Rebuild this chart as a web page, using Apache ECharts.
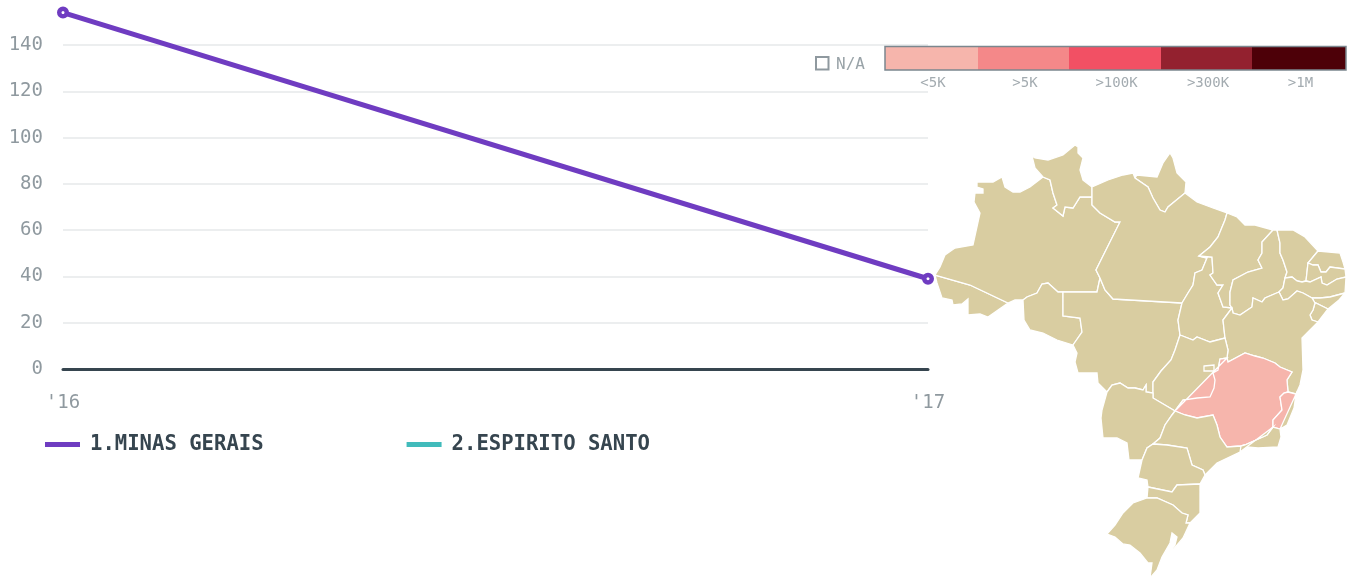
<!DOCTYPE html>
<html><head><meta charset="utf-8">
<style>html,body{margin:0;padding:0;background:#fff}#c{width:1358px;height:582px}</style>
<script src="https://cdn.jsdelivr.net/npm/echarts@6/dist/echarts.min.js"></script>
</head><body><div id="c"></div>
<script>
// ---- chart values ----
const years = ["'16", "'17"];
const minasGerais = [154, 39];
const espiritoSanto = [null, null];
const seriesNames = ['1.MINAS GERAIS', '2.ESPIRITO SANTO'];
const seriesColors = ['#6f3cc1', '#41bbbb'];
const yTicks = [0, 20, 40, 60, 80, 100, 120, 140];
const bandLabels = ['<5K', '>5K', '>100K', '>300K', '>1M'];
const bandColors = ['#f6b5ac', '#f48889', '#f25064', '#93212f', '#4d0008'];
const highlighted = ['Minas Gerais', 'Espirito Santo'];

// ---- state border arcs (map units) ----
const A = {
 acAm:[[935,275],[970,285],[1008,303]],
 acOut:[[935,275],[937,283],[942,298],[952,300],[953,305],[962,304],[968,299],[968,315],[980,314],[988,317],[998,310],[1008,303]],
 amNorth:[[935,275],[940,267],[945,255],[955,248],[973,245],[980,213],[974,202],[975,193],[983,193],[983,189],[977,187],[977,182],[993,182],[1002,177],[1005,187],[1013,192],[1020,192],[1030,187],[1043,177]],
 rrAm:[[1043,177],[1050,180],[1053,193],[1057,205],[1053,208],[1063,216],[1065,207],[1073,208],[1080,197],[1092,197]],
 rrOut:[[1043,177],[1035,168],[1032,156],[1035,158],[1048,160],[1063,155],[1075,145],[1078,147],[1078,153],[1083,158],[1080,170],[1083,180],[1092,187]],
 rrPa:[[1092,187],[1092,197]],
 amPa:[[1092,197],[1092,205],[1100,213],[1115,222],[1120,222],[1096,270],[1100,278]],
 amMt:[[1100,278],[1097,292],[1063,292]],
 amRo:[[1063,292],[1058,292],[1048,283],[1042,284],[1037,293],[1027,297],[1023,300]],
 amBo:[[1023,300],[1015,300],[1008,303]],
 roOut:[[1023,300],[1024,320],[1030,330],[1043,333],[1057,340],[1073,345]],
 roMt:[[1073,345],[1082,332],[1080,318],[1063,316],[1063,292]],
 paMt:[[1100,278],[1105,290],[1113,299],[1182,303]],
 mtWest:[[1073,345],[1077,353],[1075,362],[1078,373],[1097,373],[1098,383],[1107,392]],
 mtMs:[[1107,392],[1112,385],[1120,383],[1128,388],[1135,388],[1143,390],[1146,385],[1146,392],[1153,393]],
 mtGo:[[1153,393],[1153,382],[1161,371],[1171,360],[1175,350],[1180,335]],
 mtTo:[[1180,335],[1178,320],[1182,303]],
 paTo:[[1182,303],[1188,293],[1193,285],[1195,273],[1202,270],[1207,258],[1199,256]],
 paMa:[[1199,256],[1210,247],[1218,237],[1225,220],[1227,213]],
 toMa:[[1199,256],[1212,257],[1213,273],[1210,275],[1217,285],[1223,285],[1218,293],[1223,307],[1232,308]],
 toBa:[[1232,308],[1223,320],[1225,338]],
 toGo:[[1180,335],[1193,340],[1197,337],[1210,342],[1225,338]],
 paNorth:[[1092,187],[1108,180],[1123,175],[1133,173],[1135,178]],
 apPa:[[1135,178],[1148,187],[1153,198],[1160,210],[1165,212],[1168,207],[1185,193]],
 apOut:[[1135,178],[1137,175],[1157,177],[1163,163],[1170,153],[1173,158],[1177,173],[1186,182],[1185,193]],
 paCoast:[[1185,193],[1197,202],[1213,208],[1227,213]],
 maCoast:[[1227,213],[1237,217],[1245,225],[1255,225],[1273,230]],
 maPi:[[1273,230],[1262,242],[1262,253],[1258,260],[1262,268],[1248,272],[1233,280],[1230,292],[1230,305],[1232,308]],
 piCoast:[[1273,230],[1277,230]],
 piCe:[[1277,230],[1280,243],[1280,253],[1283,260],[1287,272],[1285,278]],
 piPe:[[1285,278],[1283,288],[1279,292]],
 piBa:[[1279,292],[1265,298],[1262,302],[1253,298],[1252,307],[1240,315],[1233,313],[1232,308]],
 ceCoast:[[1277,230],[1293,230],[1305,237],[1318,251]],
 ceRn:[[1318,251],[1308,263]],
 cePb:[[1308,263],[1307,272],[1306,281]],
 cePe:[[1306,281],[1302,282],[1297,281],[1292,277],[1285,278]],
 rnCoast:[[1318,251],[1340,253],[1343,262],[1345,269]],
 rnPb:[[1345,269],[1330,267],[1326,272],[1321,272],[1318,265],[1313,265],[1308,263]],
 pbCoast:[[1345,269],[1346,277]],
 pbPe:[[1346,277],[1337,279],[1327,285],[1322,283],[1321,277],[1310,282],[1306,281]],
 peCoast:[[1346,277],[1345,293]],
 peAl:[[1345,293],[1330,297],[1320,298],[1312,298]],
 peBa:[[1312,298],[1303,293],[1297,291],[1288,299],[1283,300],[1279,292]],
 alCoast:[[1345,293],[1339,300],[1328,309]],
 alSe:[[1312,298],[1314,302],[1328,309]],
 seCoast:[[1328,309],[1318,322]],
 seBa:[[1312,298],[1315,303],[1313,310],[1310,315],[1312,320],[1318,322]],
 baCoast:[[1318,322],[1310,330],[1302,338],[1303,370],[1300,385],[1296,394]],
 baEs:[[1296,394],[1288,392]],
 baMg:[[1288,392],[1287,380],[1292,372],[1280,367],[1275,363],[1263,358],[1255,356],[1245,353],[1228,362],[1227,358]],
 baGo:[[1227,358],[1228,350],[1225,338]],
 goMg:[[1227,358],[1220,359],[1218,370],[1213,373],[1215,380],[1214,388],[1210,397],[1197,398],[1183,400],[1175,411]],
 goMs:[[1153,393],[1153,398],[1175,411]],
 msSp:[[1175,411],[1172,415],[1165,425],[1160,438],[1153,444]],
 msPr:[[1153,444],[1147,448],[1142,460]],
 msOut:[[1107,392],[1102,410],[1101,418],[1103,438],[1117,438],[1127,443],[1129,460],[1142,460]],
 mgSp:[[1175,411],[1185,415],[1197,418],[1213,415],[1217,425],[1220,437],[1227,447],[1241,446]],
 mgRj:[[1241,446],[1245,445],[1267,435],[1273,427]],
 mgEs:[[1273,427],[1273,420],[1282,410],[1280,397],[1284,393],[1288,392]],
 esOut:[[1296,394],[1294,408],[1287,425],[1280,429],[1273,427]],
 rjOut:[[1280,429],[1281,437],[1278,447],[1258,448],[1247,447],[1240,452]],
 rjSp:[[1240,452],[1241,446]],
 spPr:[[1153,444],[1167,445],[1187,448],[1192,465],[1203,470],[1205,475]],
 spCoast:[[1240,452],[1217,463],[1205,475]],
 prOut:[[1142,460],[1138,478],[1147,480],[1148,487]],
 prSc:[[1148,487],[1172,492],[1177,485],[1200,484]],
 prCoast:[[1200,484],[1205,475]],
 scCoast:[[1200,484],[1200,513],[1190,523]],
 scRs:[[1190,523],[1186,523],[1188,515],[1182,513],[1173,505],[1157,498],[1147,498]],
 scOut:[[1147,498],[1148,487]],
 rsOut:[[1147,498],[1133,503],[1123,513],[1115,525],[1107,534],[1115,537],[1123,544],[1130,545],[1140,553],[1148,563],[1152,563],[1150,578],[1157,570],[1162,557],[1170,543],[1172,533],[1177,537],[1175,545],[1168,554],[1172,551],[1183,538],[1190,523]]
};
const DF = [[1204,366],[1214,365],[1214,371],[1204,371],[1204,366]];

// '-' prefix walks an arc backwards
const ring = names => {
  const out = [];
  names.forEach(n => {
    const rev = n[0] === '-';
    const arc = A[rev ? n.slice(1) : n].slice();
    if (rev) arc.reverse();
    arc.forEach(p => out.push(p));
  });
  out.push(out[0]);
  return out;
};
const states = {
 'Acre':['acOut','-acAm'],
 'Amazonas':['amNorth','rrAm','amPa','amMt','amRo','amBo','-acAm'],
 'Roraima':['rrOut','rrPa','-rrAm'],
 'Rondonia':['-amRo','-roMt','-roOut'],
 'Mato Grosso':['-amMt','paMt','-mtTo','-mtGo','-mtMs','-mtWest','roMt'],
 'Amapa':['apOut','-apPa'],
 'Para':['paNorth','apPa','paCoast','-paMa','-paTo','-paMt','-amPa','-rrPa'],
 'Tocantins':['paTo','toMa','toBa','-toGo','mtTo'],
 'Maranhao':['maCoast','maPi','-toMa','paMa'],
 'Piaui':['piCoast','piCe','piPe','piBa','-maPi'],
 'Ceara':['ceCoast','ceRn','cePb','cePe','-piCe'],
 'Rio Grande do Norte':['rnCoast','rnPb','-ceRn'],
 'Paraiba':['pbCoast','pbPe','-cePb','-rnPb'],
 'Pernambuco':['peCoast','peAl','peBa','-piPe','-cePe','-pbPe'],
 'Alagoas':['alCoast','-alSe','-peAl'],
 'Sergipe':['seCoast','-seBa','alSe'],
 'Bahia':['baCoast','baEs','baMg','baGo','-toBa','-piBa','-peBa','seBa'],
 'Goias':['mtGo','toGo','-baGo','goMg','-goMs'],
 'Mato Grosso do Sul':['mtMs','goMs','msSp','msPr','-msOut'],
 'Minas Gerais':['-goMg','mgSp','mgRj','mgEs','baMg'],
 'Espirito Santo':['-baEs','esOut','mgEs'],
 'Rio de Janeiro':['mgRj','-esOut','rjOut','rjSp'],
 'Sao Paulo':['msSp','spPr','-spCoast','-rjSp','-mgRj','-mgSp'],
 'Parana':['-msPr','spPr','-prCoast','-prSc','-prOut'],
 'Santa Catarina':['prSc','scCoast','scRs','scOut'],
 'Rio Grande do Sul':['rsOut','scRs']
};
const features = Object.keys(states).map(name => ({
  type:'Feature', properties:{name},
  geometry:{type:'Polygon', coordinates:[ring(states[name])]}
}));
features.push({type:'Feature', properties:{name:'Distrito Federal'}, geometry:{type:'Polygon', coordinates:[DF]}});
echarts.registerMap('brazil', {type:'FeatureCollection', features});

// ---- colour key, built from the band arrays ----
const keyEdges = [885, 978, 1069, 1161, 1252, 1346];
const monoFont = '"DejaVu Sans Mono", monospace';
const keyGraphics = [];
bandColors.forEach((c, i) => {
  keyGraphics.push({type:'rect', z:50, shape:{x:keyEdges[i], y:46.5, width:keyEdges[i+1]-keyEdges[i], height:23.5}, style:{fill:c}});
  keyGraphics.push({type:'text', z:50, style:{text:bandLabels[i], x:(keyEdges[i]+keyEdges[i+1])/2+1.5, y:83, align:'center', verticalAlign:'middle', fill:'#a3abb0', font:'14px '+monoFont}});
});
keyGraphics.push({type:'rect', z:51, shape:{x:885, y:46.5, width:461, height:23.5}, style:{fill:'none', stroke:'#7b878e', lineWidth:1.5}});
keyGraphics.push({type:'rect', z:51, shape:{x:816, y:57, width:12.5, height:12.5}, style:{fill:'#fff', stroke:'#8f999f', lineWidth:2}});
keyGraphics.push({type:'text', z:51, style:{text:'N/A', x:850.5, y:64.5, align:'center', verticalAlign:'middle', fill:'#99a3a8', font:'16px '+monoFont}});

const chart = echarts.init(document.getElementById('c'), null, {renderer:'canvas'});
chart.setOption({
  animation:false,
  backgroundColor:'#fff',
  grid:{left:63, top:45, width:865, height:324, containLabel:false},
  legend:{
    left:45, top:434, padding:0, icon:'rect', itemWidth:35, itemHeight:5, itemGap:143,
    data:seriesNames.map((name,i)=>({name, itemStyle:{color:seriesColors[i], borderWidth:0}})), selectedMode:false,
    textStyle:{color:'#36454f', fontFamily:monoFont, fontWeight:'bold', fontSize:20.6, padding:[0,0,0,5]}
  },
  xAxis:{type:'category', data:years, boundaryGap:false,
    axisLine:{show:true, onZero:true, lineStyle:{color:'#36454f', width:3}},
    axisTick:{show:false}, splitLine:{show:false},
    axisLabel:{color:'#8f999f', fontFamily:monoFont, fontSize:19, margin:25, showMinLabel:true, showMaxLabel:true, hideOverlap:false}},
  yAxis:{type:'value', min:0, max:140, interval:20,
    axisLine:{show:false}, axisTick:{show:false},
    splitLine:{lineStyle:{color:'#eceeef', width:2}},
    axisLabel:{color:'#8f999f', fontFamily:monoFont, fontSize:19, margin:20, padding:[2,0,0,0],
      formatter:v => yTicks.includes(v) ? String(v) : ''}},
  series:[
    {type:'map', map:'brazil', z:1, silent:true, roam:false, showLegendSymbol:false,
     projection:{project:p=>p, unproject:p=>p},
     layoutCenter:[1140.5,361.5], layoutSize:433,
     label:{show:false}, emphasis:{disabled:true}, select:{disabled:true},
     itemStyle:{areaColor:'#d9cda1', borderColor:'#fff', borderWidth:1.3},
     data:highlighted.map(name => ({name, value:0, itemStyle:{areaColor:bandColors[0]}}))},
    {name:seriesNames[0], type:'line', z:5, data:minasGerais, clip:false, symbol:'circle', symbolSize:7.5, showSymbol:true,
     color:seriesColors[0], lineStyle:{color:seriesColors[0], width:5},
     itemStyle:{color:'#fff', borderColor:seriesColors[0], borderWidth:4.5}},
    {name:seriesNames[1], type:'line', z:4, data:espiritoSanto, clip:false, showSymbol:false,
     color:seriesColors[1], lineStyle:{color:seriesColors[1], width:5}, itemStyle:{color:seriesColors[1]}}
  ],
  graphic:keyGraphics
});
</script></body></html>
